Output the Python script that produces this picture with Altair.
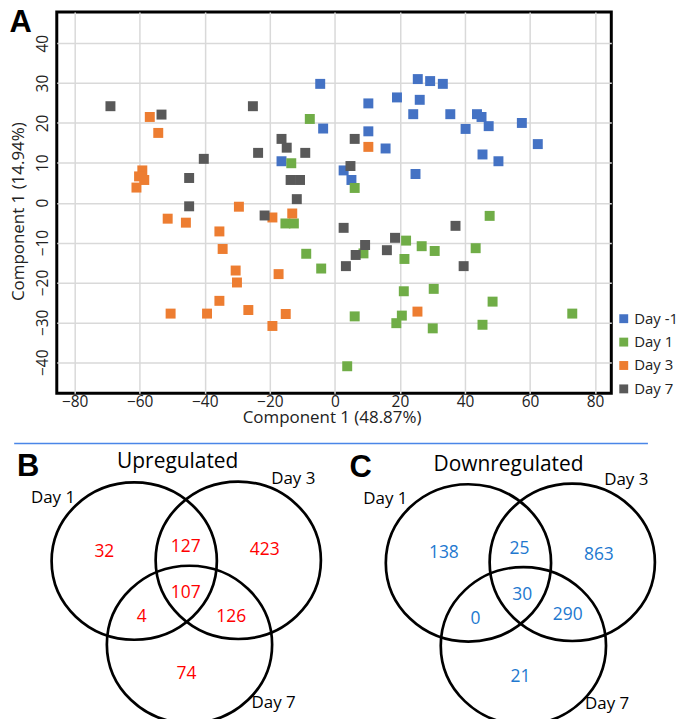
import altair as alt
import pandas as pd

FONT = "Open Sans"

# ---------------- Panel A: PCA scatter ----------------
groups = ["Day -1", "Day 1", "Day 3", "Day 7"]
group_colors = ["#4472C4", "#70AD47", "#ED7D31", "#595959"]

dm1_x = [-4.5, -3.6, -16.4, 25.5, 29.3, 33.2, 10.3, 19.1, 26.1, 24.1, 35.5, 43.7,
         45.1, 47.3, 40.2, 57.5, 62.4, 10.3, 15.6, 45.4, 50.3, 2.7, 24.8, 5.1]
dm1_y = [29.8, 18.6, 10.4, 31.0, 30.5, 29.8, 24.9, 26.4, 25.8, 22.2, 22.2, 22.2,
         21.5, 19.2, 18.5, 20.0, 14.7, 17.9, 13.6, 12.1, 10.4, 8.1, 7.2, 5.7]

d1_x = [-7.7, -13.4, 6.1, -15.2, -12.6, -8.8, -4.2, 47.6, 21.9, 26.7, 30.7, 43.3,
        8.8, 21.4, 21.2, 30.4, 48.5, 20.6, 18.9, 6.1, 30.1, 45.4, 73.0, 3.8]
d1_y = [21.0, 9.9, 3.7, -5.2, -5.2, -12.8, -16.5, -3.3, -9.5, -10.9, -12.1, -11.4,
        -12.7, -14.1, -22.2, -21.6, -24.8, -28.3, -30.2, -28.5, -31.5, -30.6, -27.8, -41.0]

d3_x = [-56.9, -54.3, -59.2, -60.2, -58.6, -61.0, 10.3, -29.5, -19.2, -13.1, -51.4, -45.8,
        -35.5, -34.5, -30.5, -17.3, -30.1, -35.5, -50.5, -39.3, -26.6, -15.1, -19.2, 25.4]
d3_y = [21.5, 17.5, 8.1, 6.6, 5.7, 3.8, 14.0, -1.0, -3.7, -2.7, -4.0, -5.0,
        -7.2, -11.6, -17.0, -17.9, -20.0, -24.6, -27.8, -27.8, -26.9, -27.9, -30.9, -27.3]

d7_x = [-69.0, -53.3, -25.2, -16.4, -14.8, -23.6, -9.1, -40.3, -44.8, -13.6, -10.7, -11.7,
        6.1, 4.8, -44.8, -21.6, 2.7, 37.1, 18.5, 9.3, 6.4, 16.0, 3.4, 39.6]
d7_y = [24.2, 22.1, 24.2, 16.0, 13.8, 12.5, 12.5, 11.0, 6.2, 5.7, 5.7, 0.9,
        16.0, 9.2, -0.9, -3.2, -6.3, -5.8, -8.8, -10.6, -13.1, -11.9, -15.9, -15.9]

x_ticks = [-80, -60, -40, -20, 0, 20, 40, 60, 80]
y_ticks = [-40, -30, -20, -10, 0, 10, 20, 30, 40]

rows = []
for g, xs, ys in zip(groups, [dm1_x, d1_x, d3_x, d7_x], [dm1_y, d1_y, d3_y, d7_y]):
    for a, b in zip(xs, ys):
        rows.append({"pc1": a, "pc2": b, "group": g})
scatter_df = pd.DataFrame(rows)

axis_common = dict(
    grid=True, gridColor="#D9D9D9", gridWidth=1.5, domain=False, ticks=False, tickSize=0,
    labelFont=FONT, labelFontSize=15.5, labelColor="#222222",
    titleFont=FONT, titleFontSize=17, titleFontWeight="normal", titleColor="#222222",
)

points = alt.Chart(scatter_df).mark_square(size=100, opacity=1).encode(
    x=alt.X("pc1:Q",
            scale=alt.Scale(domain=[-85.5, 85], nice=False, zero=False),
            axis=alt.Axis(values=x_ticks, title="Component 1 (48.87%)",
                          labelPadding=1.5, titleX=276, titleY=29,
                          titleAlign="center", titleBaseline="alphabetic", **axis_common)),
    y=alt.Y("pc2:Q",
            scale=alt.Scale(domain=[-47.8, 47.8], nice=False, zero=False),
            axis=alt.Axis(values=y_ticks, title="Component 1 (14.94%)",
                          labelAngle=270, labelAlign="center", labelBaseline="bottom",
                          labelPadding=6, titleAngle=270, titleX=-38.5, titleY=200,
                          titleAlign="center", titleBaseline="middle", **axis_common)),
    color=alt.Color("group:N",
                    scale=alt.Scale(domain=groups, range=group_colors),
                    legend=alt.Legend(title=None, orient="none", legendX=562, legendY=300.5,
                                      symbolType="square", symbolSize=80, symbolStrokeWidth=0,
                                      symbolOpacity=1, labelFont=FONT, labelFontSize=15,
                                      labelColor="#222222", rowPadding=7.5, padding=0,
                                      labelOffset=3)),
)

panel_a_letter = alt.Chart(pd.DataFrame({"t": ["A"]})).mark_text(
    fontSize=31, fontWeight="bold", font="Liberation Sans", align="center",
    baseline="alphabetic", color="black"
).encode(text="t:N", x=alt.value(-36.3), y=alt.value(19.8))

scatter = alt.layer(points, panel_a_letter).properties(
    width=557, height=383,
    view=alt.ViewBackground(stroke="black", strokeWidth=3),
)

# ---------------- Panels B & C: Venn diagrams (page-pixel coordinate frame) ----------------
VENN_TOP = 427
VENN_H = 299
VENN_LEFT = 55.5
VENN_W = 610

circle_panel = ["B", "B", "B", "C", "C", "C"]
circle_cx = [133.3, 237.8, 188.8, 469.0, 573.3, 524.2]
circle_cy = [560.5, 559.7, 644.2, 562.3, 561.7, 645.5]

# text anchors are glyph baselines
set_label_text = ["Day 1", "Day 3", "Day 7", "Day 1", "Day 3", "Day 7"]
set_label_x = [51.7, 293.0, 273.3, 385.5, 627.5, 608.3]
set_label_y = [501.7, 483.3, 708.5, 502.7, 484.0, 709.0]

up_counts = ["32", "127", "423", "107", "4", "126", "74"]
up_x = [103.3, 185.0, 264.3, 185.0, 140.7, 230.7, 185.7]
up_y = [556.7, 551.7, 554.0, 597.7, 621.7, 621.7, 679.3]

down_counts = ["138", "25", "863", "30", "0", "290", "21"]
down_x = [444.3, 520.3, 600.0, 523.0, 476.0, 568.7, 521.3]
down_y = [557.7, 553.3, 559.0, 599.3, 623.3, 620.0, 681.7]

venn_titles = ["Upregulated", "Downregulated"]
venn_title_x = [177.0, 509.3]
venn_title_y = [467.0, 470.0]

panel_letters = ["B", "C"]
panel_letter_x = [26.7, 360.8]
panel_letter_y = [475.0, 476.0]

separator_x = [12.7]
separator_x2 = [649.3]
separator_y = [442.3]

# ellipse outline (unit box, slightly flattened vertically like the original)
E = 0.952
K = 0.5523
ELLIPSE = (f"M 1 0 C 1 {K*E:.4f} {K} {E} 0 {E} C {-K} {E} -1 {K*E:.4f} -1 0 "
           f"C -1 {-K*E:.4f} {-K} {-E} 0 {-E} C {K} {-E} 1 {-K*E:.4f} 1 0 Z")
CIRCLE_SIZE = 166 ** 2

vx_scale = alt.Scale(domain=[VENN_LEFT, VENN_LEFT + VENN_W], nice=False, zero=False)
vy_scale = alt.Scale(domain=[VENN_TOP, VENN_TOP + VENN_H], nice=False, zero=False, reverse=True)


def vx(field):
    return alt.X(f"{field}:Q", scale=vx_scale, axis=None)


def vy(field):
    return alt.Y(f"{field}:Q", scale=vy_scale, axis=None)


circles_df = pd.DataFrame({"panel": circle_panel, "x": circle_cx, "y": circle_cy})
circles = alt.Chart(circles_df).mark_point(
    shape=ELLIPSE, size=CIRCLE_SIZE, filled=False, color="black", strokeWidth=2.7, opacity=1
).encode(x=vx("x"), y=vy("y"))

labels = alt.Chart(pd.DataFrame({"t": set_label_text, "x": set_label_x, "y": set_label_y})).mark_text(
    font=FONT, fontSize=17, color="black", align="center", baseline="alphabetic"
).encode(x=vx("x"), y=vy("y"), text="t:N")

up_text = alt.Chart(pd.DataFrame({"t": up_counts, "x": up_x, "y": up_y})).mark_text(
    font=FONT, fontSize=17.5, color="#FF0000", align="center", baseline="alphabetic"
).encode(x=vx("x"), y=vy("y"), text="t:N")

down_text = alt.Chart(pd.DataFrame({"t": down_counts, "x": down_x, "y": down_y})).mark_text(
    font=FONT, fontSize=17.5, color="#2278CF", align="center", baseline="alphabetic"
).encode(x=vx("x"), y=vy("y"), text="t:N")

titles = alt.Chart(pd.DataFrame({"t": venn_titles, "x": venn_title_x, "y": venn_title_y})).mark_text(
    font=FONT, fontSize=21, color="black", align="center", baseline="alphabetic"
).encode(x=vx("x"), y=vy("y"), text="t:N")

letters = alt.Chart(pd.DataFrame({"t": panel_letters, "x": panel_letter_x, "y": panel_letter_y})).mark_text(
    font="Liberation Sans", fontSize=31, fontWeight="bold", color="black", align="center",
    baseline="alphabetic"
).encode(x=vx("x"), y=vy("y"), text="t:N")

separator = alt.Chart(pd.DataFrame({"x": separator_x, "x2": separator_x2, "y": separator_y})).mark_rule(
    color="#4A86E8", strokeWidth=1.5
).encode(x=vx("x"), x2="x2:Q", y=vy("y"))

venn = alt.layer(separator, circles, labels, up_text, down_text, titles, letters).properties(
    width=VENN_W, height=VENN_H,
    view=alt.ViewBackground(stroke="transparent"),
)

chart = alt.vconcat(scatter, venn, spacing=0).properties(
    padding={"left": 0, "top": -4.5, "right": -2, "bottom": -14}
)

chart.save("out.html", embed_options={"renderer": "svg", "actions": False})
